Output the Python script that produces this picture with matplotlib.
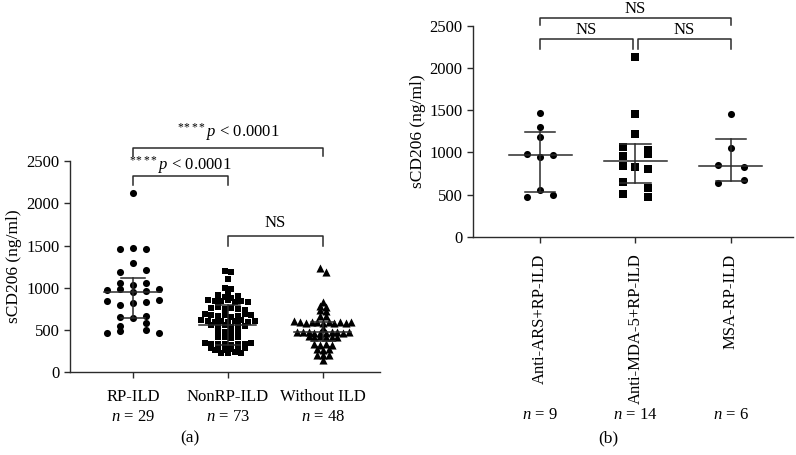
"""
sCD206 scatter plots, panels (a) and (b)
"""
import numpy as np
from matplotlib import pyplot as plt
from matplotlib.transforms import blended_transform_factory

plt.rcParams['font.family'] = ['Liberation Serif', 'DejaVu Serif']
plt.rcParams['mathtext.fontset'] = 'custom'
plt.rcParams['mathtext.rm'] = 'Liberation Serif'
plt.rcParams['mathtext.it'] = 'Liberation Serif:italic'
plt.rcParams['font.size'] = 12

# panel (a)
groups_a = ['RP-ILD', 'NonRP-ILD', 'Without ILD']
n_a = [29, 73, 48]
rp_ild = [2126,
          1455, 1467, 1455,
          1297,
          1183, 1214,
          1060, 1036, 1060,
          974, 982, 950, 958, 982,
          840, 800, 823, 832, 859,
          651, 639, 666,
          551, 583,
          465, 492, 504, 465]
nonrp_ild = [1198, 1190,
             1104,
             1001, 985,
             923, 914, 891, 882, 900,
             860, 845, 838, 850, 830, 842, 826,
             757, 770, 745, 760, 752, 740,
             690, 674, 668, 680, 660, 672, 685, 678,
             620, 607, 600, 612, 595, 605, 615, 598, 610,
             555, 548, 560, 540, 550, 545,
             480, 471, 465, 475,
             420, 412, 405, 415,
             345, 335, 330, 340, 328, 338, 332, 342,
             285, 272, 268, 278, 265, 275, 282,
             225, 232, 238, 228]
without_ild = [1230, 1190,
               828,
               788, 772,
               737, 725,
               670, 668,
               612,
               590, 585, 600, 595, 580, 592, 588, 598, 583, 596,
               520,
               480, 476, 472, 468, 470, 465, 478, 474, 462, 482,
               425, 418, 430, 412, 422, 415,
               335, 328, 340, 325,
               270, 262, 275,
               205, 200, 210,
               150]
median_a = [945, 565, 475]
q1_a = [640, 320, 365]
q3_a = [1120, 800, 590]

# panel (b)
groups_b = ['Anti-ARS+RP-ILD', 'Anti-MDA-5+RP-ILD', 'MSA-RP-ILD']
n_b = [9, 14, 6]
anti_ars = [1472, 1299, 1189, 984, 949, 972, 555, 472, 492]
anti_mda5 = [2134, 1454, 1217, 1060, 1028, 957, 985, 839, 827, 800, 647, 583, 505, 469]
msa = [1454, 1056, 855, 824, 638, 674]
median_b = [976, 902, 839]
q1_b = [528, 635, 665]
q3_b = [1240, 1099, 1158]

yticks = [0, 500, 1000, 1500, 2000, 2500]
ylabel = 'sCD206 (ng/ml)'
p_label = r'$^{*\!*\!*\!*}p$ < 0.0001'

LINE = '#2b2b2b'


def swarm_x(values, bin_h, step, skip_center):
    # GraphPad-like rows: values within bin_h share a row, spread sideways
    values = np.asarray(values, float)
    offs = np.zeros(len(values))
    order = np.argsort(values, kind='stable')
    rows, row, start = [], [], None
    for i in order:
        if start is None or values[i] - start > bin_h:
            if row:
                rows.append(row)
            row, start = [i], values[i]
        else:
            row.append(i)
    rows.append(row)
    for row in rows:
        row = sorted(row)
        n = len(row)
        if n % 2 == 0 and skip_center:
            half = np.arange(1, n // 2 + 1)
            cols = np.concatenate([-half[::-1], half])
        else:
            cols = np.arange(n) - (n - 1) / 2
        offs[row] = cols * step
    return offs


def plot_group(ax, x, values, marker, size, bin_h, step, skip_center=True):
    xs = x + swarm_x(values, bin_h, step, skip_center)
    ax.scatter(xs, values, marker=marker, s=size, color='black', linewidths=0, zorder=3)


def plot_summary(ax, x, med, lo, hi, half_med, half_cap):
    ax.plot([x - half_med, x + half_med], [med, med], color=LINE, lw=1.1, zorder=4)
    ax.plot([x, x], [lo, hi], color=LINE, lw=1.1, zorder=4)
    ax.plot([x - half_cap, x + half_cap], [lo, lo], color=LINE, lw=1.1, zorder=4)
    ax.plot([x - half_cap, x + half_cap], [hi, hi], color=LINE, lw=1.1, zorder=4)


def bracket(ax, x1, x2, y, drop, label, text_y):
    ax.plot([x1, x1, x2, x2], [y - drop, y, y, y - drop], color=LINE, lw=1.1, clip_on=False)
    ax.text((x1 + x2) / 2, text_y, label, ha='center', va='center', clip_on=False)


def style_axes(ax, xlim):
    ax.set_xlim(*xlim)
    ax.set_ylim(0, 2500)
    ax.set_yticks(yticks)
    for side in ['top', 'right']:
        ax.spines[side].set_visible(False)
    for side in ['left', 'bottom']:
        ax.spines[side].set_linewidth(1.0)
        ax.spines[side].set_color(LINE)
    ax.tick_params(length=4, width=1.0, color=LINE)
    ax.set_ylabel(ylabel, fontsize=12.5)


W, H = 796, 455
fig = plt.figure(figsize=(W / 100, H / 100), dpi=100)

# ---- panel (a)
ax1 = fig.add_axes([70 / W, 1 - 372.3 / H, 310 / W, (372.3 - 161) / H])
style_axes(ax1, (0.337, 3.6))
ax1.yaxis.set_label_coords(-0.155, 0.5)

plot_group(ax1, 1, rp_ild, 'o', 26, 70, 0.135)
plot_group(ax1, 2, nonrp_ild, 's', 24, 40, 0.07, skip_center=False)
plot_group(ax1, 3, without_ild, '^', 34, 40, 0.06, skip_center=False)
for i in range(3):
    plot_summary(ax1, i + 1, median_a[i], q1_a[i], q3_a[i], 0.3, 0.13)

ax1.set_xticks([1, 2, 3])
ax1.set_xticklabels([f'{g}\n$n$ = {n}' for g, n in zip(groups_a, n_a)], linespacing=1.35)
ax1.tick_params(axis='x', pad=8)

bracket(ax1, 1, 3, 2657, 98, p_label, 2846)
bracket(ax1, 1, 2, 2322, 106, p_label, 2452)
bracket(ax1, 2, 3, 1616, 122, 'NS', 1766)

# ---- panel (b)
ax2 = fig.add_axes([473 / W, 1 - 237 / H, 320 / W, (237 - 25.7) / H])
style_axes(ax2, (0.298, 3.65))
ax2.yaxis.set_label_coords(-0.148, 0.5)

plot_group(ax2, 1, anti_ars, 'o', 26, 70, 0.133)
plot_group(ax2, 2, anti_mda5, 's', 26, 70, 0.133)
plot_group(ax2, 3, msa, 'o', 26, 70, 0.133)
for i in range(3):
    plot_summary(ax2, i + 1, median_b[i], q1_b[i], q3_b[i], 0.33, 0.16)

ax2.set_xticks([1, 2, 3])
ax2.set_xticklabels(groups_b, rotation=90, ha='center', va='top')
ax2.tick_params(axis='x', pad=8)

trans = blended_transform_factory(ax2.transData, fig.transFigure)
for i, n in enumerate(n_b):
    ax2.text(i + 1, 1 - 415 / H, f'$n$ = {n}', transform=trans, ha='center', va='center')

bracket(ax2, 1, 3, 2597, 91, 'NS', 2700)
bracket(ax2, 1, 1.974, 2340, 110, 'NS', 2447)
bracket(ax2, 2.026, 3, 2340, 110, 'NS', 2447)

fig.text(190 / W, 1 - 438 / H, '(a)', ha='center', va='center', fontsize=12.5)
fig.text(608 / W, 1 - 438 / H, '(b)', ha='center', va='center', fontsize=12.5)

fig.savefig('out.png', dpi=100)
